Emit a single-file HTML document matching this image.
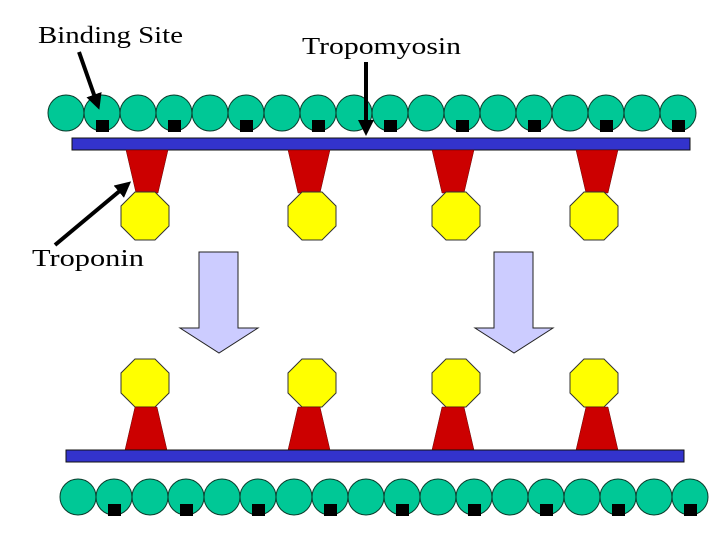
<!DOCTYPE html>
<html><head><meta charset="utf-8"><style>html,body{margin:0;padding:0;background:#fff}svg{display:block}</style></head>
<body>
<svg width="720" height="540" viewBox="0 0 720 540" xmlns="http://www.w3.org/2000/svg">
<defs>
<g id="c"><circle cx="0" cy="0" r="18" fill="#00c896" stroke="#0a3a2a" stroke-width="1"/></g>
<g id="c2"><circle cx="0" cy="0" r="18" fill="#00c896" stroke="#0a3a2a" stroke-width="1"/><circle cx="36" cy="0" r="18" fill="#00c896" stroke="#0a3a2a" stroke-width="1"/><rect x="30" y="7" width="13" height="12" fill="#000"/></g>
<polygon id="oct" points="-10,-24 10,-24 24,-10 24,10 10,24 -10,24 -24,10 -24,-10" fill="#ffff00" stroke="#333" stroke-width="1"/>
<marker id="ah" markerWidth="4" markerHeight="4" refX="3" refY="2" orient="auto" markerUnits="strokeWidth"><path d="M0,0 L4,2 L0,4 z" fill="#000"/></marker>
</defs>
<!-- top actin -->
<g transform="translate(66,113)">
<use href="#c2" x="0"/><use href="#c2" x="72"/><use href="#c2" x="144"/><use href="#c2" x="216"/><use href="#c2" x="288"/><use href="#c2" x="360"/><use href="#c2" x="432"/><use href="#c2" x="504"/><use href="#c2" x="576"/>
</g>
<rect x="72" y="138" width="618" height="12" fill="#3333cc" stroke="#111" stroke-width="1"/>
<g fill="#cc0000" stroke="#600" stroke-width="0.5">
<polygon points="126,150 168,150 158,193 136,193"/>
<polygon points="288,150 330,150 320,193 298,193"/>
<polygon points="432,150 474,150 464,193 442,193"/>
<polygon points="576,150 618,150 608,193 586,193"/>
</g>
<use href="#oct" x="145" y="216"/><use href="#oct" x="312" y="216"/><use href="#oct" x="456" y="216"/><use href="#oct" x="594" y="216"/>
<!-- big arrows -->
<polygon points="199,252 238,252 238,328 258,328 219,353 180,328 199,328" fill="#ccccff" stroke="#222" stroke-width="1"/>
<polygon points="494,252 533,252 533,328 553,328 514,353 475,328 494,328" fill="#ccccff" stroke="#222" stroke-width="1"/>
<!-- bottom -->
<use href="#oct" x="145" y="383"/><use href="#oct" x="312" y="383"/><use href="#oct" x="456" y="383"/><use href="#oct" x="594" y="383"/>
<g fill="#cc0000" stroke="#600" stroke-width="0.5">
<polygon points="135,407 157,407 167,450 125,450"/>
<polygon points="298,407 320,407 330,450 288,450"/>
<polygon points="442,407 464,407 474,450 432,450"/>
<polygon points="586,407 608,407 618,450 576,450"/>
</g>
<rect x="66" y="450" width="618" height="12" fill="#3333cc" stroke="#111" stroke-width="1"/>
<g transform="translate(78,497)">
<use href="#c2" x="0"/><use href="#c2" x="72"/><use href="#c2" x="144"/><use href="#c2" x="216"/><use href="#c2" x="288"/><use href="#c2" x="360"/><use href="#c2" x="432"/><use href="#c2" x="504"/><use href="#c2" x="576"/>
</g>
<!-- labels -->
<g font-family="Liberation Serif, serif" font-size="24" fill="#000">
<text x="38" y="43" textLength="145" lengthAdjust="spacingAndGlyphs">Binding Site</text>
<text x="302" y="54" textLength="159" lengthAdjust="spacingAndGlyphs">Tropomyosin</text>
<text x="32" y="266" textLength="112" lengthAdjust="spacingAndGlyphs">Troponin</text>
</g>
<g stroke="#000" stroke-width="4" fill="none">
<line x1="79" y1="52" x2="98" y2="106" marker-end="url(#ah)"/>
<line x1="366" y1="62" x2="366" y2="132" marker-end="url(#ah)"/>
<line x1="55" y1="245" x2="128" y2="184" marker-end="url(#ah)"/>
</g>
</svg>
</body></html>
